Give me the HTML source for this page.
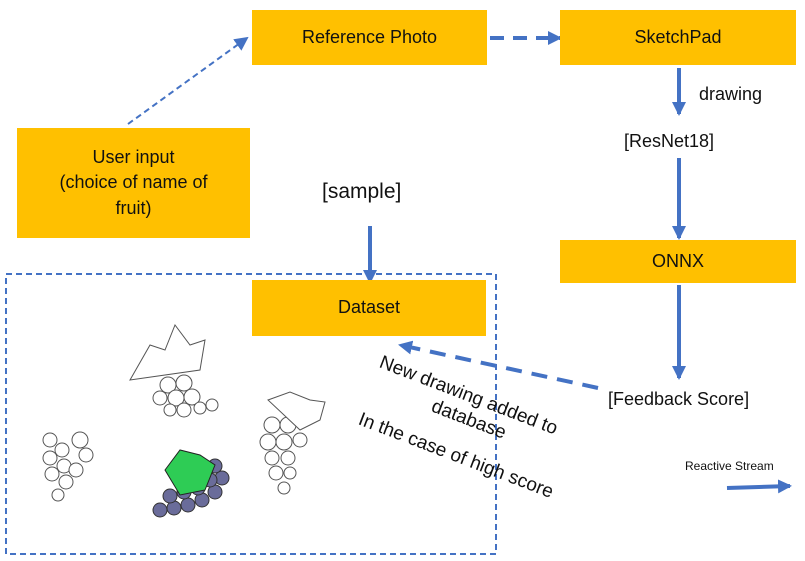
<!DOCTYPE html>
<html><head><meta charset="utf-8"><style>
body{margin:0;width:805px;height:561px;background:#fff;position:relative;overflow:hidden;font-family:"Liberation Sans",sans-serif;}
.b{position:absolute;background:#FFC000;display:flex;align-items:center;justify-content:center;text-align:center;font-size:18px;color:#111;line-height:1.4;z-index:2}
.t{position:absolute;font-size:18px;color:#111;white-space:nowrap;z-index:3}
</style></head><body>
<div class="b" style="left:252px;top:10px;width:235px;height:55px">Reference Photo</div>
<div class="b" style="left:560px;top:10px;width:236px;height:55px">SketchPad</div>
<div class="b" style="left:17px;top:128px;width:233px;height:110px">User input<br>(choice of name of<br>fruit)</div>
<div class="b" style="left:560px;top:240px;width:236px;height:43px">ONNX</div>
<div class="b" style="left:252px;top:280px;width:234px;height:56px">Dataset</div>
<div class="t" style="left:699px;top:84px">drawing</div>
<div class="t" style="left:624px;top:131px">[ResNet18]</div>
<div class="t" style="left:322px;top:180px;font-size:21px">[sample]</div>
<div class="t" style="left:608px;top:389px">[Feedback Score]</div>
<div class="t" style="left:685px;top:459px;font-size:12px">Reactive Stream</div>
<svg width="805" height="561" style="position:absolute;left:0;top:0;z-index:1">
<defs>
<marker id="h" markerWidth="14" markerHeight="14" refX="12" refY="7" orient="auto" markerUnits="userSpaceOnUse"><path d="M0,0 L14,7 L0,14z" fill="#4472C4"/></marker></defs>
<rect x="6" y="274" width="490" height="280" fill="none" stroke="#4472C4" stroke-width="2" stroke-dasharray="6,4"/>
<line x1="128" y1="124" x2="247" y2="38" stroke="#4472C4" stroke-width="2" stroke-dasharray="6,4" marker-end="url(#h)"/>
<line x1="490" y1="38" x2="560" y2="38" stroke="#4472C4" stroke-width="4" stroke-dasharray="14,9" marker-end="url(#h)"/>
<line x1="679" y1="68" x2="679" y2="114" stroke="#4472C4" stroke-width="4" marker-end="url(#h)"/>
<line x1="679" y1="158" x2="679" y2="238" stroke="#4472C4" stroke-width="4" marker-end="url(#h)"/>
<line x1="370" y1="226" x2="370" y2="282" stroke="#4472C4" stroke-width="4" marker-end="url(#h)"/>
<line x1="679" y1="285" x2="679" y2="378" stroke="#4472C4" stroke-width="4" marker-end="url(#h)"/>
<line x1="598" y1="388" x2="400" y2="345" stroke="#4472C4" stroke-width="4" stroke-dasharray="16,10" marker-end="url(#h)"/>
<line x1="727" y1="488" x2="790" y2="486" stroke="#4472C4" stroke-width="4" marker-end="url(#h)"/>
<g fill="#fff" stroke="#555" stroke-width="1">
<path d="M130,380 L150,345 L165,350 L175,325 L190,345 L205,340 L200,370 Z"/>
<circle cx="168" cy="385" r="8"/><circle cx="184" cy="383" r="8"/><circle cx="176" cy="398" r="8"/><circle cx="192" cy="397" r="8"/><circle cx="160" cy="398" r="7"/><circle cx="184" cy="410" r="7"/><circle cx="200" cy="408" r="6"/><circle cx="212" cy="405" r="6"/><circle cx="170" cy="410" r="6"/>
<circle cx="50" cy="440" r="7"/><circle cx="62" cy="450" r="7"/><circle cx="50" cy="458" r="7"/><circle cx="64" cy="466" r="7"/><circle cx="52" cy="474" r="7"/><circle cx="66" cy="482" r="7"/><circle cx="58" cy="495" r="6"/><circle cx="76" cy="470" r="7"/><circle cx="86" cy="455" r="7"/><circle cx="80" cy="440" r="8"/>
<circle cx="272" cy="425" r="8"/><circle cx="288" cy="425" r="8"/><circle cx="268" cy="442" r="8"/><circle cx="284" cy="442" r="8"/><circle cx="300" cy="440" r="7"/><circle cx="272" cy="458" r="7"/><circle cx="288" cy="458" r="7"/><circle cx="276" cy="473" r="7"/><circle cx="290" cy="473" r="6"/><circle cx="284" cy="488" r="6"/>
<path d="M268,400 L290,392 L310,400 L325,402 L320,420 L300,430 Z"/>
</g>
<g fill="#6A6C9A" stroke="#333" stroke-width="1">
<circle cx="160" cy="510" r="7"/><circle cx="174" cy="508" r="7"/><circle cx="188" cy="505" r="7"/><circle cx="202" cy="500" r="7"/><circle cx="215" cy="492" r="7"/><circle cx="222" cy="478" r="7"/><circle cx="170" cy="496" r="7"/><circle cx="184" cy="492" r="7"/><circle cx="198" cy="488" r="7"/><circle cx="210" cy="480" r="7"/><circle cx="215" cy="466" r="7"/>
</g>
<path d="M165,470 L180,450 L200,455 L215,465 L205,490 L180,495 Z" fill="#2ECC55" stroke="#222"/>
</svg>
<div class="t" style="left:384px;top:352px;transform:rotate(21deg);transform-origin:0 0;font-size:19px">New drawing added to</div>
<div class="t" style="left:436px;top:396px;transform:rotate(21deg);transform-origin:0 0;font-size:19px">database</div>
<div class="t" style="left:363px;top:409px;transform:rotate(21deg);transform-origin:0 0;font-size:19px">In the case of high score</div>
</body></html>
